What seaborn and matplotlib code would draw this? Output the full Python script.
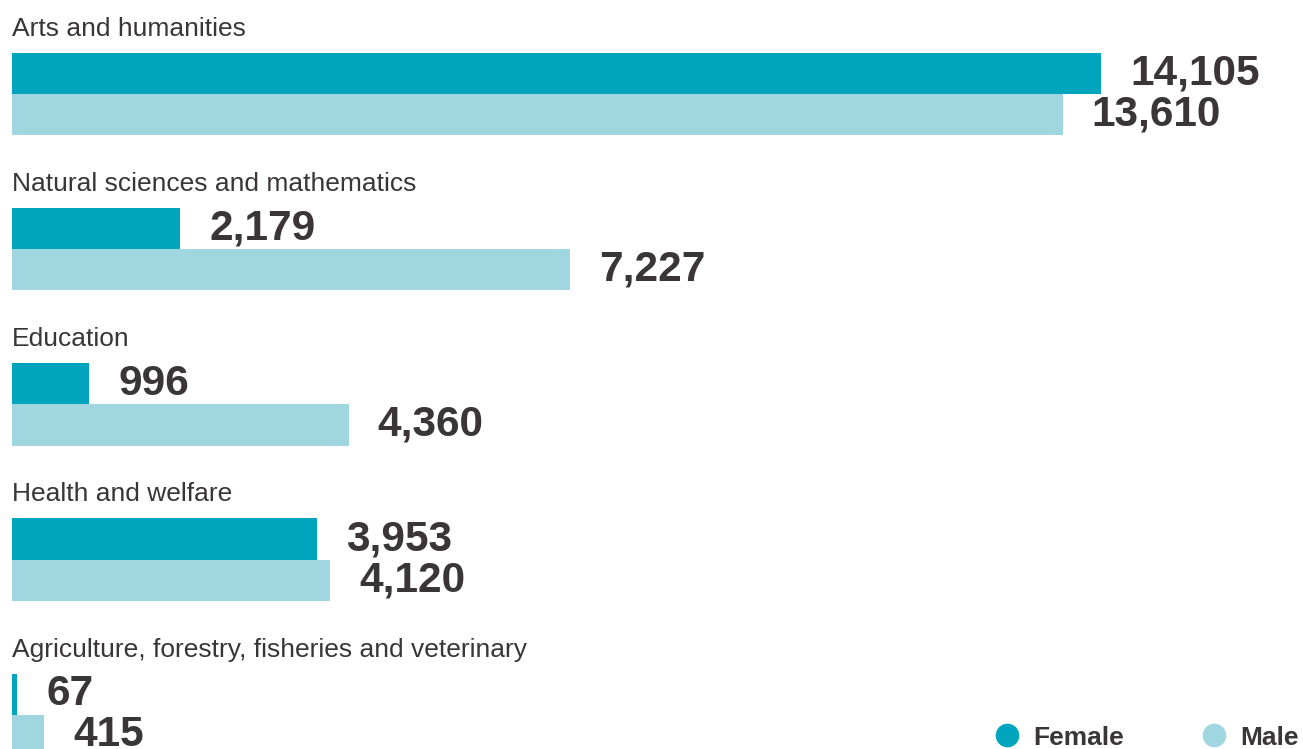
import matplotlib
matplotlib.use("Agg")
import matplotlib.pyplot as plt
from matplotlib.lines import Line2D
import seaborn as sns
import pandas as pd

categories = [
    "Arts and humanities",
    "Natural sciences and mathematics",
    "Education",
    "Health and welfare",
    "Agriculture, forestry, fisheries and veterinary",
]
female = [14105, 2179, 996, 3953, 67]
male = [13610, 7227, 4360, 4120, 415]
series = ["Female", "Male"]
colors = ["#00A5BD", "#9FD6DF"]
text_color = "#3a3536"

df = pd.DataFrame({
    "category": categories * 2,
    "value": female + male,
    "sex": ["Female"] * len(categories) + ["Male"] * len(categories),
})

sns.set_theme(style="white")
plt.rcParams["font.family"] = ["Liberation Sans", "DejaVu Sans"]

W, H = 1303, 749
fig = plt.figure(figsize=(W / 100, H / 100), dpi=100)
ax = fig.add_axes([0, 0, 1, 1])

sns.barplot(data=df, y="category", x="value", hue="sex", orient="h",
            palette=colors, hue_order=series, order=categories,
            width=0.53, dodge=True, saturation=1, linewidth=0,
            legend=False, ax=ax, errorbar=None)

px_per_unit = 0.0772
ax.set_xlim(-12 / px_per_unit, (W - 12) / px_per_unit)
group_px = 155.2
ax.set_ylim((H - 94) / group_px, -94 / group_px)

for cont in ax.containers:
    ax.bar_label(cont, labels=[f"{v:,.0f}" for v in cont.datavalues],
                 padding=21, fontsize=30.5, fontweight="bold", color=text_color)

for i, name in enumerate(categories):
    ax.text(0, i - 0.265 - 17 / group_px, name, fontsize=19,
            color=text_color, va="baseline", ha="left")

ax.set_axis_off()

handles = [Line2D([0], [0], marker="o", linestyle="none", markersize=17,
                  markerfacecolor=c, markeredgewidth=0) for c in colors]
leg = fig.legend(handles, series, loc="lower right", ncol=2, frameon=False,
                 bbox_to_anchor=(1.009, -0.022), handlelength=1.0,
                 handletextpad=0.5, columnspacing=2.9,
                 prop={"size": 19, "weight": "bold"}, borderaxespad=0.2)
for t in leg.get_texts():
    t.set_color(text_color)

fig.savefig("out.png", dpi=100)
